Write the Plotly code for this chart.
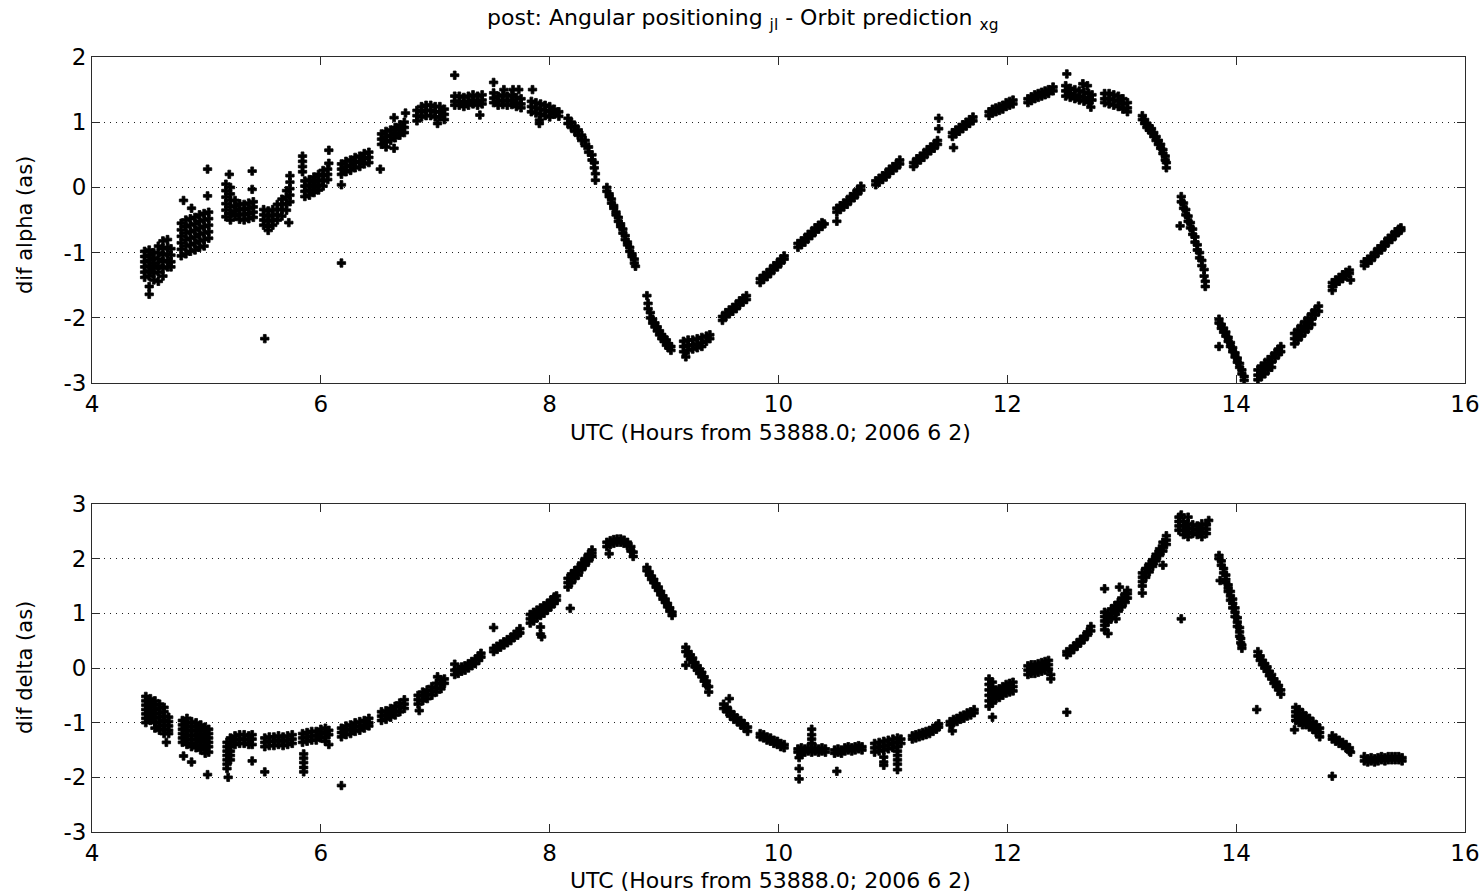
import plotly.graph_objects as go

# ---------------- data ----------------
x_ticks = [4, 6, 8, 10, 12, 14, 16]
x_tick_labels = ["4", "6", "8", "10", "12", "14", "16"]
alpha_ticks = [-3, -2, -1, 0, 1, 2]
alpha_tick_labels = ["-3", "-2", "-1", "0", "1", "2"]
delta_ticks = [-3, -2, -1, 0, 1, 2, 3]
delta_tick_labels = ["-3", "-2", "-1", "0", "1", "2", "3"]

# UTC hour of each observed column and the dif alpha values (as) seen at it
alpha_hours = [
    4.46, 4.50, 4.54, 4.58, 4.62, 4.66, 4.69,
    4.78, 4.80, 4.82, 4.86, 4.87, 4.90, 4.94, 4.98, 5.01, 5.02,
    5.17, 5.20, 5.21, 5.25, 5.29, 5.33, 5.37, 5.40, 5.41,
    5.50, 5.51, 5.54, 5.58, 5.62, 5.66, 5.70, 5.72, 5.73,
    5.84, 5.86, 5.90, 5.94, 5.98, 6.02, 6.06, 6.07,
    6.18, 6.22, 6.26, 6.30, 6.34, 6.38, 6.42, 6.52,
    6.53, 6.57, 6.61, 6.64, 6.65, 6.69, 6.73, 6.74,
    6.84, 6.88, 6.92, 6.96, 7.00, 7.02, 7.04, 7.08,
    7.17, 7.21, 7.25, 7.29, 7.33, 7.37, 7.39, 7.41,
    7.51, 7.55, 7.59, 7.60, 7.63, 7.67, 7.68, 7.71, 7.73, 7.75,
    7.84, 7.85, 7.88, 7.91, 7.92, 7.96, 8.00, 8.04, 8.08,
    8.16, 8.19, 8.22, 8.25, 8.28, 8.31, 8.34, 8.37, 8.39, 8.40,
    8.50, 8.52, 8.54, 8.56, 8.58, 8.60, 8.62, 8.64, 8.66, 8.68, 8.70, 8.72, 8.74, 8.75,
    8.85, 8.86, 8.88, 8.90, 8.92, 8.94, 8.96, 8.98, 9.00, 9.02, 9.04, 9.06,
    9.17, 9.19, 9.21, 9.25, 9.29, 9.33, 9.37, 9.40,
    9.51, 9.54, 9.57, 9.60, 9.63, 9.66, 9.69, 9.72,
    9.84, 9.87, 9.90, 9.93, 9.96, 9.99, 10.02, 10.05,
    10.17, 10.20, 10.23, 10.26, 10.29, 10.32, 10.35, 10.38, 10.40,
    10.51, 10.54, 10.57, 10.60, 10.63, 10.66, 10.69, 10.72,
    10.85, 10.88, 10.91, 10.94, 10.97, 11.00, 11.03, 11.06,
    11.18, 11.21, 11.24, 11.27, 11.30, 11.33, 11.36, 11.39, 11.40,
    11.52, 11.53, 11.55, 11.58, 11.61, 11.64, 11.67, 11.70,
    11.84, 11.87, 11.90, 11.93, 11.96, 11.99, 12.02, 12.05,
    12.18, 12.21, 12.24, 12.27, 12.30, 12.33, 12.36, 12.40,
    12.51, 12.52, 12.55, 12.59, 12.63, 12.66, 12.67, 12.70, 12.71, 12.73, 12.74,
    12.85, 12.89, 12.93, 12.97, 13.01, 13.05,
    13.18, 13.20, 13.22, 13.24, 13.26, 13.28, 13.30, 13.32, 13.34, 13.36, 13.38, 13.39,
    13.51, 13.52, 13.54, 13.56, 13.58, 13.60, 13.62, 13.64, 13.66, 13.68, 13.70, 13.72, 13.73,
    13.85, 13.87, 13.89, 13.91, 13.93, 13.95, 13.97, 13.99, 14.01, 14.03, 14.05, 14.07,
    14.19, 14.22, 14.25, 14.28, 14.31, 14.34, 14.37, 14.39,
    14.51, 14.54, 14.57, 14.60, 14.63, 14.66, 14.69, 14.72,
    14.84, 14.87, 14.90, 14.93, 14.96, 14.99, 15.00,
    15.12, 15.15, 15.18, 15.21, 15.24, 15.27, 15.30, 15.33, 15.36, 15.39, 15.42, 15.44,
]
alpha_values = [
    [-0.98, -1.06, -1.14, -1.22, -1.30, -1.38], [-0.96, -1.04, -1.12, -1.20, -1.28, -1.36, -1.52, -1.64],
    [-1.00, -1.08, -1.16, -1.24, -1.32, -1.42], [-0.90, -1.00, -1.10, -1.20, -1.30, -1.44],
    [-0.82, -0.94, -1.04, -1.14, -1.24, -1.36], [-0.80, -0.92, -1.02, -1.12, -1.22], [-0.94, -1.04, -1.14, -1.22],
    [-0.55, -0.65, -0.75, -0.85, -0.95, -1.05], [-0.20], [-0.50, -0.60, -0.70, -0.80, -0.90, -1.02],
    [-0.48, -0.58, -0.68, -0.78, -0.88, -0.98], [-0.32], [-0.46, -0.56, -0.66, -0.76, -0.86, -0.96],
    [-0.42, -0.52, -0.62, -0.72, -0.82, -0.92], [-0.40, -0.50, -0.60, -0.70, -0.80, -0.90], [0.28, -0.13],
    [-0.38, -0.48, -0.58, -0.68, -0.78],
    [0.05, -0.05, -0.15, -0.25, -0.35, -0.45], [0.20], [0.00, -0.10, -0.20, -0.30, -0.40, -0.50],
    [-0.20, -0.28, -0.36, -0.44], [-0.25, -0.33, -0.41, -0.49], [-0.26, -0.34, -0.42, -0.50],
    [-0.24, -0.32, -0.40, -0.48], [0.25, -0.03], [-0.22, -0.30, -0.38, -0.46],
    [-0.34, -0.42, -0.50, -0.58], [-2.32], [-0.36, -0.44, -0.52, -0.60, -0.66], [-0.34, -0.42, -0.50, -0.58],
    [-0.26, -0.34, -0.42, -0.50], [-0.18, -0.26, -0.34, -0.44], [-0.05, -0.15, -0.25, -0.35], [-0.54],
    [0.18, 0.08, -0.02, -0.12, -0.22],
    [0.48, 0.40, 0.32, 0.24], [0.10, 0.02, -0.06, -0.14], [0.12, 0.04, -0.04, -0.12], [0.16, 0.08, 0.00, -0.08],
    [0.20, 0.12, 0.04, -0.04], [0.26, 0.18, 0.10, 0.02], [0.28, 0.20, 0.12], [0.57, 0.37],
    [0.36, 0.28, 0.20, 0.04, -1.16], [0.40, 0.32, 0.24], [0.42, 0.34, 0.26], [0.46, 0.38, 0.30],
    [0.48, 0.40, 0.32], [0.52, 0.44, 0.36], [0.54, 0.46, 0.38], [0.28],
    [0.82, 0.74, 0.66], [0.86, 0.78, 0.70, 0.62], [0.88, 0.80, 0.72], [1.07, 0.60], [0.92, 0.84, 0.76],
    [0.96, 0.88, 0.80], [1.00, 0.92, 0.84], [1.14],
    [1.18, 1.10, 1.02], [1.24, 1.16, 1.08], [1.26, 1.18, 1.10], [1.26, 1.18, 1.10], [1.24, 1.16, 1.08],
    [0.98], [1.24, 1.16, 1.08], [1.20, 1.12, 1.04],
    [1.72, 1.40, 1.32, 1.26], [1.40, 1.32, 1.26], [1.38, 1.30, 1.24], [1.40, 1.32, 1.26], [1.42, 1.34, 1.28],
    [1.40, 1.32, 1.26], [1.11], [1.42, 1.34, 1.28],
    [1.61, 1.45, 1.37, 1.30], [1.40, 1.32, 1.26], [1.42, 1.34, 1.27], [1.50], [1.40, 1.32, 1.26],
    [1.42, 1.34, 1.27], [1.50], [1.38, 1.30, 1.24], [1.50], [1.36, 1.28, 1.22],
    [1.32, 1.24, 1.16], [1.50], [1.30, 1.22, 1.14], [1.03, 0.98], [1.28, 1.20, 1.12], [1.26, 1.18, 1.10],
    [1.24, 1.16, 1.08], [1.20, 1.12], [1.16, 1.09],
    [1.06, 0.98], [1.00, 0.92], [0.94, 0.86], [0.88, 0.80], [0.80, 0.72], [0.72, 0.64], [0.62, 0.54],
    [0.50, 0.42], [0.38, 0.30], [0.21, 0.11],
    [0.00, -0.06], [-0.10, -0.14], [-0.18, -0.24], [-0.28, -0.32], [-0.38, -0.42], [-0.46, -0.52],
    [-0.56, -0.60], [-0.64, -0.70], [-0.74, -0.80], [-0.84, -0.88], [-0.92, -0.98], [-1.02, -1.06],
    [-1.10, -1.16], [-1.21],
    [-1.66], [-1.78, -1.86], [-1.92, -2.00], [-2.02, -2.08], [-2.08, -2.14], [-2.14, -2.20], [-2.20, -2.26],
    [-2.26, -2.32], [-2.30, -2.36], [-2.34, -2.42], [-2.40, -2.46], [-2.44, -2.50],
    [-2.36, -2.44, -2.52], [-2.60], [-2.34, -2.42, -2.50], [-2.34, -2.42, -2.48], [-2.32, -2.40, -2.46],
    [-2.30, -2.38, -2.44], [-2.28, -2.36], [-2.26, -2.32],
    [-2.04, -1.98], [-1.98, -1.92], [-1.94, -1.88], [-1.90, -1.84], [-1.86, -1.80], [-1.80, -1.74],
    [-1.76, -1.70], [-1.72, -1.66],
    [-1.46, -1.40], [-1.41, -1.35], [-1.37, -1.31], [-1.32, -1.26], [-1.26, -1.20], [-1.22, -1.16],
    [-1.16, -1.10], [-1.10, -1.05],
    [-0.92, -0.86], [-0.88, -0.82], [-0.84, -0.78], [-0.78, -0.72], [-0.74, -0.68], [-0.68, -0.62],
    [-0.64, -0.58], [-0.60, -0.54], [-0.56],
    [-0.52, -0.38, -0.32], [-0.34, -0.28], [-0.30, -0.24], [-0.26, -0.20], [-0.20, -0.14], [-0.16, -0.10],
    [-0.10, -0.04], [-0.04, 0.02],
    [0.04, 0.10], [0.08, 0.14], [0.12, 0.18], [0.16, 0.22], [0.22, 0.28], [0.26, 0.32], [0.30, 0.36], [0.36, 0.42],
    [0.32, 0.38], [0.38, 0.44], [0.42, 0.48], [0.46, 0.52], [0.52, 0.58], [0.56, 0.62], [0.60, 0.66],
    [0.66, 0.72], [1.06, 0.90],
    [0.78, 0.84], [0.61], [0.82, 0.88], [0.86, 0.92], [0.90, 0.96], [0.94, 1.00], [0.98, 1.04], [1.02, 1.08],
    [1.10, 1.16], [1.14, 1.20], [1.16, 1.22], [1.18, 1.24], [1.20, 1.26], [1.24, 1.30], [1.26, 1.32], [1.28, 1.34],
    [1.30, 1.36], [1.33, 1.39], [1.36, 1.42], [1.38, 1.44], [1.40, 1.46], [1.42, 1.48], [1.44, 1.50], [1.48, 1.54],
    [1.56, 1.48, 1.40], [1.74], [1.52, 1.44, 1.38], [1.50, 1.42, 1.36], [1.48, 1.40, 1.34], [1.59],
    [1.46, 1.38, 1.32], [1.56], [1.44, 1.36, 1.30], [1.23], [1.42, 1.34],
    [1.44, 1.36, 1.30], [1.44, 1.36, 1.28], [1.42, 1.34, 1.26], [1.40, 1.32, 1.24], [1.36, 1.28, 1.20],
    [1.30, 1.22, 1.16],
    [1.10, 1.04], [1.04, 0.98], [0.98, 0.92], [0.94, 0.88], [0.90, 0.84], [0.84, 0.78], [0.78, 0.72],
    [0.72, 0.66], [0.66, 0.60], [0.58, 0.52], [0.48, 0.42], [0.38, 0.30],
    [-0.59], [-0.14, -0.22], [-0.24, -0.32], [-0.34, -0.42], [-0.44, -0.52], [-0.54, -0.62], [-0.64, -0.72],
    [-0.76, -0.84], [-0.88, -0.96], [-1.00, -1.08], [-1.12, -1.20], [-1.26, -1.36], [-1.44, -1.52],
    [-2.02, -2.08, -2.44], [-2.10, -2.16], [-2.16, -2.22], [-2.22, -2.28], [-2.30, -2.36], [-2.38, -2.44],
    [-2.46, -2.52], [-2.54, -2.60], [-2.62, -2.68], [-2.70, -2.76], [-2.80, -2.86], [-2.90, -2.96],
    [-2.80, -2.88, -2.95], [-2.74, -2.82, -2.90], [-2.70, -2.78, -2.86], [-2.64, -2.72, -2.80],
    [-2.60, -2.68, -2.76], [-2.54, -2.62], [-2.48, -2.56], [-2.44, -2.52],
    [-2.24, -2.32, -2.40], [-2.18, -2.26, -2.34], [-2.12, -2.20, -2.28], [-2.06, -2.14, -2.22],
    [-2.00, -2.08, -2.16], [-1.94, -2.02, -2.10], [-1.88, -1.96], [-1.82, -1.90],
    [-1.52, -1.46, -1.58], [-1.48, -1.42], [-1.44, -1.38], [-1.40, -1.34], [-1.36, -1.30], [-1.32, -1.27], [-1.42],
    [-1.20, -1.14], [-1.16, -1.10], [-1.12, -1.06], [-1.06, -1.00], [-1.00, -0.94], [-0.96, -0.90],
    [-0.90, -0.84], [-0.84, -0.78], [-0.80, -0.74], [-0.74, -0.68], [-0.68, -0.64], [-0.66, -0.62],
]

# UTC hour of each observed column and the dif delta values (as) seen at it
delta_hours = [
    4.47, 4.51, 4.55, 4.59, 4.63, 4.65, 4.67,
    4.79, 4.80, 4.83, 4.87, 4.91, 4.95, 4.99, 5.01, 5.02,
    5.18, 5.19, 5.21, 5.25, 5.29, 5.33, 5.37, 5.40,
    5.51, 5.55, 5.59, 5.63, 5.67, 5.71, 5.75,
    5.84, 5.85, 5.88, 5.92, 5.96, 6.00, 6.04, 6.07,
    6.18, 6.22, 6.26, 6.30, 6.34, 6.38, 6.42,
    6.53, 6.57, 6.61, 6.65, 6.69, 6.73,
    6.85, 6.86, 6.89, 6.93, 6.97, 7.01, 7.02, 7.05, 7.08,
    7.17, 7.20, 7.23, 7.26, 7.29, 7.32, 7.35, 7.38, 7.40,
    7.51, 7.54, 7.57, 7.60, 7.63, 7.66, 7.69, 7.72, 7.74,
    7.83, 7.86, 7.89, 7.92, 7.93, 7.95, 7.98, 8.01, 8.04, 8.06,
    8.16, 8.18, 8.19, 8.22, 8.25, 8.28, 8.31, 8.34, 8.37,
    8.50, 8.52, 8.53, 8.56, 8.59, 8.62, 8.65, 8.68, 8.71, 8.73,
    8.85, 8.87, 8.89, 8.91, 8.93, 8.95, 8.97, 8.99, 9.01, 9.03, 9.05, 9.07,
    9.19, 9.21, 9.23, 9.25, 9.27, 9.29, 9.31, 9.33, 9.35, 9.37, 9.39,
    9.52, 9.55, 9.57, 9.58, 9.61, 9.64, 9.67, 9.70, 9.73,
    9.84, 9.87, 9.90, 9.93, 9.96, 9.99, 10.02, 10.05,
    10.17, 10.18, 10.20, 10.23, 10.26, 10.29, 10.32, 10.35, 10.38, 10.41,
    10.49, 10.51, 10.52, 10.55, 10.58, 10.61, 10.64, 10.67, 10.70, 10.73,
    10.84, 10.88, 10.92, 10.96, 11.00, 11.04, 11.07,
    11.17, 11.20, 11.23, 11.26, 11.29, 11.32, 11.35, 11.38, 11.40,
    11.50, 11.52, 11.53, 11.56, 11.59, 11.62, 11.65, 11.68, 11.71,
    11.84, 11.87, 11.90, 11.93, 11.96, 11.99, 12.02, 12.05,
    12.18, 12.21, 12.24, 12.27, 12.30, 12.33, 12.36, 12.38,
    12.52, 12.55, 12.58, 12.61, 12.64, 12.67, 12.70, 12.73,
    12.85, 12.88, 12.91, 12.94, 12.95, 12.97, 12.98, 13.00, 13.03, 13.05,
    13.18, 13.21, 13.24, 13.27, 13.30, 13.33, 13.36, 13.39,
    13.50, 13.52, 13.54, 13.58, 13.62, 13.66, 13.70, 13.74, 13.76,
    13.85, 13.86, 13.87, 13.89, 13.91, 13.93, 13.95, 13.97, 13.99, 14.01, 14.03, 14.04, 14.05,
    14.18, 14.19, 14.21, 14.23, 14.25, 14.27, 14.29, 14.31, 14.33, 14.35, 14.37, 14.39,
    14.51, 14.52, 14.55, 14.58, 14.61, 14.64, 14.67, 14.70, 14.73,
    14.84, 14.87, 14.90, 14.93, 14.96, 14.99, 15.00,
    15.12, 15.15, 15.18, 15.21, 15.24, 15.27, 15.30, 15.33, 15.36, 15.39, 15.42, 15.45,
]
delta_values = [
    [-0.52, -0.60, -0.68, -0.76, -0.84, -0.92, -1.00], [-0.56, -0.64, -0.72, -0.80, -0.88, -0.96],
    [-0.60, -0.68, -0.76, -0.84, -0.92, -1.00, -1.10], [-0.66, -0.74, -0.82, -0.90, -0.98, -1.06, -1.14],
    [-0.72, -0.80, -0.88, -0.96, -1.04, -1.12, -1.20], [-1.36], [-0.90, -0.98, -1.06, -1.14, -1.20],
    [-0.96, -1.04, -1.12, -1.20, -1.28, -1.36], [-1.61], [-0.92, -1.00, -1.08, -1.16, -1.24, -1.32, -1.40],
    [-0.98, -1.06, -1.14, -1.22, -1.30, -1.38, -1.44, -1.72], [-1.00, -1.08, -1.16, -1.24, -1.32, -1.40, -1.46],
    [-1.04, -1.12, -1.20, -1.28, -1.36, -1.44, -1.50], [-1.08, -1.16, -1.24, -1.32, -1.40, -1.48, -1.56],
    [-1.95], [-1.12, -1.20, -1.28, -1.36, -1.44, -1.54],
    [-1.36, -1.44, -1.52, -1.60, -1.68, -1.76, -1.84], [-2.00], [-1.28, -1.36, -1.44, -1.52, -1.60, -1.68],
    [-1.24, -1.32, -1.40], [-1.22, -1.30, -1.38], [-1.22, -1.30, -1.38], [-1.24, -1.32, -1.40],
    [-1.22, -1.30, -1.40, -1.70],
    [-1.28, -1.36, -1.44, -1.90], [-1.26, -1.34, -1.42], [-1.26, -1.34, -1.42], [-1.24, -1.32, -1.40],
    [-1.26, -1.34, -1.42], [-1.24, -1.32, -1.40], [-1.22, -1.30, -1.38],
    [-1.20, -1.28, -1.36], [-1.57, -1.65, -1.73, -1.82, -1.90], [-1.18, -1.26, -1.34], [-1.16, -1.24, -1.32],
    [-1.16, -1.24, -1.32], [-1.12, -1.20, -1.28], [-1.10, -1.18, -1.26, -1.34], [-1.14, -1.22, -1.40],
    [-1.10, -1.18, -1.26, -2.15], [-1.06, -1.14, -1.22], [-1.04, -1.12, -1.20], [-1.00, -1.08, -1.16],
    [-0.98, -1.06, -1.14], [-0.96, -1.04, -1.10], [-0.92, -1.00, -1.06],
    [-0.80, -0.88, -0.96], [-0.78, -0.86, -0.94], [-0.74, -0.82, -0.90], [-0.70, -0.78, -0.86],
    [-0.64, -0.72, -0.80], [-0.58, -0.66, -0.74],
    [-0.50, -0.58, -0.66], [-0.78], [-0.44, -0.52, -0.60], [-0.40, -0.48, -0.56], [-0.34, -0.42, -0.50],
    [-0.28, -0.36, -0.44], [-0.16], [-0.22, -0.30, -0.38], [-0.20, -0.28],
    [-0.12, -0.04, 0.07], [-0.10, -0.02], [-0.06, 0.02], [-0.04, 0.04], [0.00, 0.08], [0.04, 0.12],
    [0.08, 0.16], [0.14, 0.22], [0.20, 0.27],
    [0.30, 0.36, 0.74], [0.34, 0.40], [0.38, 0.44], [0.42, 0.48], [0.46, 0.52], [0.50, 0.56], [0.56, 0.62],
    [0.60, 0.66], [0.64, 0.72],
    [0.82, 0.90, 0.98], [0.86, 0.94, 1.02], [0.92, 1.00, 1.06], [0.96, 1.04, 1.10, 0.75, 0.62], [0.57],
    [1.00, 1.08, 1.14], [1.06, 1.12, 1.18], [1.12, 1.18, 1.24], [1.18, 1.24, 1.30], [1.24, 1.32],
    [1.48, 1.56, 1.64], [1.09], [1.56, 1.64, 1.72], [1.64, 1.72, 1.78], [1.70, 1.78, 1.84], [1.80, 1.86, 1.92],
    [1.88, 1.94, 2.00], [1.96, 2.02, 2.08], [2.04, 2.10, 2.16],
    [2.22, 2.30], [2.09], [2.26, 2.33], [2.28, 2.35], [2.30, 2.36], [2.30, 2.36], [2.28, 2.34], [2.24, 2.30],
    [2.14, 2.22], [2.04, 2.12],
    [1.84, 1.78], [1.76, 1.70], [1.68, 1.62], [1.62, 1.56], [1.54, 1.48], [1.48, 1.42], [1.40, 1.34],
    [1.32, 1.26], [1.26, 1.20], [1.18, 1.12], [1.10, 1.04], [1.02, 0.96],
    [0.38, 0.30, 0.05], [0.30, 0.22], [0.24, 0.16], [0.18, 0.10], [0.10, 0.02], [0.04, -0.04], [-0.02, -0.10],
    [-0.08, -0.16], [-0.16, -0.24], [-0.24, -0.32], [-0.34, -0.44],
    [-0.66, -0.74], [-0.72, -0.80], [-0.56], [-0.80, -0.88], [-0.86, -0.94], [-0.92, -0.98], [-0.96, -1.04],
    [-1.02, -1.10], [-1.08, -1.16],
    [-1.20, -1.26], [-1.22, -1.28], [-1.26, -1.32], [-1.28, -1.34], [-1.32, -1.38], [-1.34, -1.40],
    [-1.38, -1.44], [-1.40, -1.46],
    [-1.48, -1.54], [-1.64, -1.84, -2.03], [-1.46, -1.52, -1.58], [-1.48, -1.54], [-1.46, -1.52],
    [-1.48, -1.54, -1.12, -1.22, -1.30, -1.38], [-1.46, -1.52], [-1.48, -1.54], [-1.46, -1.52], [-1.48, -1.54],
    [-1.50, -1.56], [-1.89], [-1.48, -1.54], [-1.50, -1.56], [-1.46, -1.52], [-1.44, -1.50], [-1.46, -1.52],
    [-1.44, -1.50], [-1.42, -1.48], [-1.44, -1.50],
    [-1.38, -1.46, -1.54], [-1.36, -1.44, -1.52], [-1.34, -1.42, -1.50, -1.63, -1.72, -1.78],
    [-1.32, -1.40, -1.48], [-1.30, -1.38, -1.46], [-1.28, -1.36, -1.44, -1.52, -1.60, -1.68, -1.76, -1.86],
    [-1.30, -1.38],
    [-1.24, -1.30], [-1.22, -1.28], [-1.20, -1.26], [-1.18, -1.24], [-1.16, -1.22], [-1.14, -1.20],
    [-1.10, -1.16], [-1.06, -1.12], [-1.02, -1.08],
    [-0.98, -1.04], [-1.15], [-0.94, -1.00], [-0.92, -0.98], [-0.88, -0.94], [-0.86, -0.92], [-0.82, -0.88],
    [-0.80, -0.86], [-0.76, -0.82],
    [-0.20, -0.30, -0.40, -0.50, -0.60, -0.70], [-0.26, -0.36, -0.46, -0.56, -0.64, -0.90],
    [-0.40, -0.48, -0.56], [-0.38, -0.46, -0.54], [-0.34, -0.42, -0.50], [-0.30, -0.38, -0.46],
    [-0.28, -0.36, -0.44], [-0.26, -0.34, -0.42],
    [0.04, -0.04, -0.12], [0.06, -0.02, -0.10], [0.06, -0.02, -0.10], [0.08, 0.00, -0.08], [0.10, 0.02, -0.06],
    [0.12, 0.04, -0.04], [0.14, 0.06, -0.02], [-0.20, -0.12],
    [0.24, 0.30, -0.81], [0.28, 0.34], [0.34, 0.40], [0.40, 0.46], [0.46, 0.52], [0.52, 0.58], [0.60, 0.66],
    [0.68, 0.76],
    [0.70, 0.78, 0.86, 0.94, 1.02, 1.45], [0.84, 0.92, 1.00, 0.63], [0.92, 1.00, 1.08], [0.98, 1.06, 1.14],
    [0.90], [1.04, 1.12, 1.20], [1.48], [1.12, 1.20, 1.28], [1.20, 1.28, 1.36], [1.28, 1.36, 1.42],
    [1.50, 1.58, 1.66, 1.74, 1.37], [1.66, 1.74, 1.82], [1.76, 1.84, 1.90], [1.86, 1.92, 1.98],
    [1.96, 2.02, 2.08], [2.06, 2.12, 2.18], [2.14, 2.22, 2.30, 1.88], [2.26, 2.34, 2.42],
    [2.52, 2.60, 2.68, 2.76], [2.80, 0.90], [2.44, 2.52, 2.60, 2.68], [2.40, 2.48, 2.56, 2.64, 2.76],
    [2.46, 2.54, 2.62], [2.44, 2.52, 2.60], [2.40, 2.48, 2.56, 2.64], [2.46, 2.54, 2.62], [2.70],
    [2.06, 2.00], [1.60], [1.96, 1.88], [1.82, 1.74], [1.70, 1.62, 1.56], [1.52, 1.46, 1.40],
    [1.40, 1.32, 1.24], [1.26, 1.18, 1.10], [1.10, 1.02, 0.94], [0.92, 0.84, 0.76], [0.74, 0.66, 0.58],
    [0.54, 0.46], [0.42, 0.36],
    [-0.76], [0.30, 0.22], [0.22, 0.14], [0.14, 0.06], [0.08, 0.00], [0.02, -0.06], [-0.06, -0.14],
    [-0.12, -0.20], [-0.20, -0.28], [-0.26, -0.34], [-0.32, -0.40], [-0.40, -0.48],
    [-1.13], [-0.72, -0.80, -0.88, -0.96], [-0.76, -0.84, -0.92, -1.00], [-0.82, -0.90, -0.98, -1.04],
    [-0.88, -0.96, -1.04], [-0.92, -1.00, -1.08], [-0.98, -1.06, -1.12], [-1.04, -1.10, -1.18],
    [-1.10, -1.18, -1.26],
    [-1.24, -1.30, -1.98], [-1.28, -1.34], [-1.32, -1.38], [-1.36, -1.42], [-1.40, -1.46], [-1.46, -1.52],
    [-1.54],
    [-1.62, -1.70], [-1.66, -1.72], [-1.64, -1.70], [-1.66, -1.72], [-1.64, -1.70], [-1.62, -1.68],
    [-1.64, -1.70], [-1.62, -1.68], [-1.62, -1.68], [-1.62, -1.68], [-1.62, -1.68], [-1.64, -1.70],
]

assert len(alpha_hours) == len(alpha_values), (len(alpha_hours), len(alpha_values))
assert len(delta_hours) == len(delta_values), (len(delta_hours), len(delta_values))


def expand(hours, values):
    xs, ys = [], []
    for h, vs in zip(hours, values):
        for v in vs:
            xs.append(h)
            ys.append(v)
    return xs, ys


ax_, ay_ = expand(alpha_hours, alpha_values)
dx_, dy_ = expand(delta_hours, delta_values)

FONT = "DejaVu Sans"
W, H = 1483, 892
marker = dict(symbol="cross", size=7, color="black", line=dict(width=0.8, color="black"))

fig = go.Figure()
fig.add_trace(go.Scatter(x=ax_, y=ay_, mode="markers", marker=marker,
                         xaxis="x", yaxis="y", showlegend=False, hoverinfo="skip"))
fig.add_trace(go.Scatter(x=dx_, y=dy_, mode="markers", marker=marker,
                         xaxis="x2", yaxis="y2", showlegend=False, hoverinfo="skip"))

axis_common = dict(showline=True, linecolor="#2b2b2b", linewidth=1, mirror="ticks",
                   ticks="inside", ticklen=8, tickwidth=1, tickcolor="#2b2b2b",
                   tickfont=dict(family=FONT, size=23, color="black"), zeroline=False,
                   automargin=False)
xdom = [92 / W, 1465 / W]
grid = dict(showgrid=True, gridcolor="#222222", griddash="1px,5px", gridwidth=1)

fig.update_layout(
    width=W, height=H, margin=dict(l=0, r=0, t=0, b=0, autoexpand=False),
    paper_bgcolor="white", plot_bgcolor="white",
    xaxis=dict(axis_common, domain=xdom, anchor="y", range=[4, 16], tickvals=x_ticks,
               ticktext=x_tick_labels, showgrid=False),
    yaxis=dict(axis_common, domain=[1 - 383 / H, 1 - 57 / H], anchor="x", range=[-3, 2],
               tickvals=alpha_ticks, ticktext=alpha_tick_labels, **grid),
    xaxis2=dict(axis_common, domain=xdom, anchor="y2", range=[4, 16], tickvals=x_ticks,
                ticktext=x_tick_labels, showgrid=False),
    yaxis2=dict(axis_common, domain=[1 - 832 / H, 1 - 504 / H], anchor="x2", range=[-3, 3],
                tickvals=delta_ticks, ticktext=delta_tick_labels, **grid),
)

title_font = dict(family=FONT, size=22, color="black")
label_font = dict(family=FONT, size=21, color="black")
ann = [
    dict(text="post: Angular positioning <sub>jl</sub> - Orbit prediction <sub>xg</sub>",
         x=742 / W, y=1 - 20 / H, font=dict(family=FONT, size=22, color="black")),
    dict(text="UTC (Hours from 53888.0; 2006 6 2)", x=770 / W, y=1 - 432 / H, font=title_font),
    dict(text="UTC (Hours from 53888.0; 2006 6 2)", x=770 / W, y=1 - 880 / H, font=title_font),
    dict(text="dif alpha (as)", x=25 / W, y=1 - 225 / H, textangle=-90, font=label_font),
    dict(text="dif delta (as)", x=25 / W, y=1 - 668 / H, textangle=-90, font=label_font),
]
for a in ann:
    a.update(xref="paper", yref="paper", xanchor="center", yanchor="middle", showarrow=False)
fig.update_layout(annotations=ann)

fig.write_html("out.html", config={"displayModeBar": False},
               post_script="document.body.style.margin='0';document.body.style.overflow='hidden';")
